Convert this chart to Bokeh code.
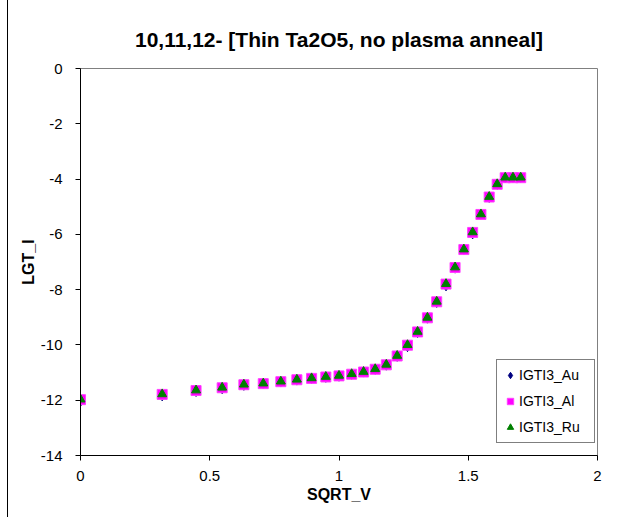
from bokeh.plotting import figure
from bokeh.models import Range1d, Legend, LegendItem, FixedTicker
from bokeh.embed import file_html
from bokeh.resources import INLINE

sqrt_v = [0.0, 0.316, 0.447, 0.548, 0.632, 0.707, 0.775, 0.837, 0.894, 0.949,
          1.0, 1.049, 1.095, 1.140, 1.183, 1.225, 1.265, 1.304, 1.342, 1.378,
          1.414, 1.449, 1.483, 1.517, 1.549, 1.581, 1.612, 1.643, 1.673, 1.703]

lgt_au = [-12.06, -11.86, -11.70, -11.60, -11.48, -11.43, -11.36, -11.29, -11.24, -11.19,
          -11.15, -11.08, -11.00, -10.90, -10.75, -10.43, -10.08, -9.57, -9.05, -8.48,
          -7.88, -7.24, -6.58, -6.00, -5.31, -4.68, -4.21, -3.97, -3.96, -3.96]

lgt_al = [-11.98, -11.79, -11.65, -11.55, -11.44, -11.40, -11.33, -11.26, -11.21, -11.16,
          -11.12, -11.06, -10.98, -10.88, -10.72, -10.40, -10.01, -9.53, -9.02, -8.44,
          -7.80, -7.20, -6.55, -5.93, -5.28, -4.65, -4.19, -3.95, -3.95, -3.95]

lgt_ru = [-11.97, -11.78, -11.64, -11.54, -11.43, -11.39, -11.32, -11.25, -11.20, -11.15,
          -11.11, -11.05, -10.97, -10.87, -10.71, -10.39, -10.00, -9.52, -9.01, -8.43,
          -7.79, -7.19, -6.54, -5.92, -5.27, -4.64, -4.18, -3.94, -3.94, -3.94]

x_ticks = [0, 0.5, 1, 1.5, 2]
x_labels = {0: "0", 0.5: "0.5", 1: "1", 1.5: "1.5", 2: "2"}
y_ticks = [0, -2, -4, -6, -8, -10, -12, -14]
y_labels = {0: "0", -2: "-2", -4: "-4", -6: "-6", -8: "-8", -10: "-10", -12: "-12", -14: "-14"}

title = "10,11,12- [Thin Ta2O5, no plasma anneal]"
names = ["IGTI3_Au", "IGTI3_Al", "IGTI3_Ru"]

FONT = "Liberation Sans"

p = figure(width=610, height=517, output_backend="svg", toolbar_location=None,
           x_range=Range1d(0, 2), y_range=Range1d(-14, 0),
           min_border_left=72, min_border_right=21, min_border_top=68, min_border_bottom=62,
           title=title)
p.styles = {"border-left": "1px solid black", "margin-left": "7px"}

p.title.align = "center"
p.title.text_font = FONT
p.title.text_font_size = "21px"
p.title.text_font_style = "bold"
p.title.text_color = "black"
p.title.standoff = 36

p.xgrid.visible = False
p.ygrid.visible = False
p.outline_line_color = "#808080"
p.outline_line_width = 1

for ax in (p.xaxis[0], p.yaxis[0]):
    ax.axis_line_color = "black"
    ax.major_tick_line_color = "black"
    ax.major_tick_out = 5
    ax.major_tick_in = 0
    ax.minor_tick_line_color = None
    ax.major_label_text_font = FONT
    ax.major_label_text_font_size = "15px"
    ax.major_label_text_color = "black"
    ax.axis_label_text_font = FONT
    ax.axis_label_text_font_size = "16px"
    ax.axis_label_text_font_style = "bold"
    ax.axis_label_text_color = "black"

p.xaxis[0].ticker = FixedTicker(ticks=x_ticks)
p.xaxis[0].major_label_overrides = x_labels
p.xaxis[0].axis_label = "SQRT_V"
p.xaxis[0].major_label_standoff = 10
p.xaxis[0].axis_label_standoff = 2

p.yaxis[0].ticker = FixedTicker(ticks=y_ticks)
p.yaxis[0].major_label_overrides = y_labels
p.yaxis[0].axis_label = "LGT_I"
p.yaxis[0].major_label_standoff = 13
p.yaxis[0].axis_label_standoff = 1

r_au = p.scatter(sqrt_v, lgt_au, marker="diamond", size=9, fill_color="#000080",
                 line_color="#000080")
r_al = p.scatter(sqrt_v, lgt_al, marker="square", size=10, fill_color="#FF00FF",
                 line_color="#FF40FF")
r_ru = p.scatter(sqrt_v, lgt_ru, marker="triangle", size=9, fill_color="#008000",
                 line_color="#008000")

legend = Legend(items=[LegendItem(label=names[0], renderers=[r_au]),
                       LegendItem(label=names[1], renderers=[r_al]),
                       LegendItem(label=names[2], renderers=[r_ru])],
                location=(416, 12))
legend.border_line_color = "black"
legend.border_line_width = 1
legend.background_fill_color = "white"
legend.background_fill_alpha = 1
legend.label_text_font = FONT
legend.label_text_font_size = "14px"
legend.label_text_color = "black"
legend.glyph_width = 16
legend.glyph_height = 16
legend.label_standoff = 1
legend.label_height = 20
legend.spacing = 6
legend.padding = 5
legend.margin = 0
legend.label_width = 70
p.add_layout(legend, "center")

open("out.html", "w").write(file_html(p, INLINE))
